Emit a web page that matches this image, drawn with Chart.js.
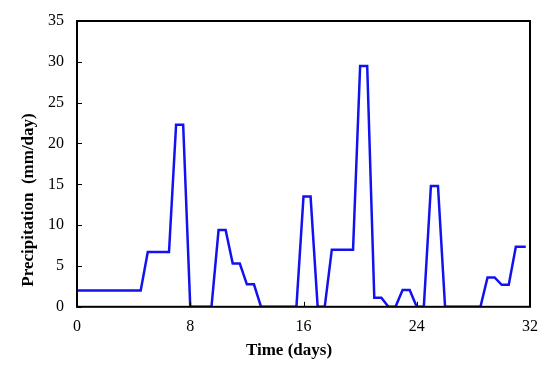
<!DOCTYPE html>
<html>
<head>
<meta charset="utf-8">
<script src="https://cdn.jsdelivr.net/npm/chart.js@4"></script>
<style>
  body { margin: 0; background: #fff; }
  #wrap { width: 550px; height: 370px; }
</style>
</head>
<body>
<div id="wrap"><canvas id="precipChart" width="550" height="370"></canvas></div>
<script>
// time in days and precipitation (mm/day)
const days = [0, 4.5, 5, 6.5, 7, 7.5, 8, 9.5, 10, 10.5, 11, 11.5, 12, 12.5, 13,
  15.5, 16, 16.5, 17, 17.5, 18, 19.5, 20, 20.5, 21, 21.5, 22, 22.5, 23, 23.5, 24,
  24.5, 25, 25.5, 26, 28.5, 29, 29.5, 30, 30.5, 31, 31.7];
const precip = [2, 2, 6.7, 6.7, 22.3, 22.3, 0, 0, 9.4, 9.4, 5.3, 5.3, 2.75, 2.75, 0,
  0, 13.5, 13.5, 0, 0, 7, 7, 29.5, 29.5, 1.1, 1.1, 0, 0, 2.05, 2.05, 0,
  0, 14.8, 14.8, 0, 0, 3.6, 3.6, 2.7, 2.7, 7.35, 7.35];
const xTicks = [0, 8, 16, 24, 32];
const yTicks = [0, 5, 10, 15, 20, 25, 30, 35];
const xTitle = 'Time (days)';
const yTitle = 'Precipitation  (mm/day)';

const points = days.map((d, i) => ({ x: d, y: precip[i] }));

// frame round the plot, small inward tick marks and the axis titles
const framePlugin = {
  id: 'frame',
  afterDraw(chart) {
    const { ctx, chartArea: a, scales } = chart;
    ctx.save();
    ctx.strokeStyle = '#000';
    ctx.lineWidth = 1;
    yTicks.forEach(v => {
      const y = Math.round(scales.y.getPixelForValue(v)) + 0.5;
      ctx.beginPath();
      ctx.moveTo(a.left, y);
      ctx.lineTo(a.left + 5, y);
      ctx.stroke();
    });
    xTicks.forEach(v => {
      const x = Math.round(scales.x.getPixelForValue(v)) + 0.5;
      ctx.beginPath();
      ctx.moveTo(x, a.bottom);
      ctx.lineTo(x, a.bottom - 5);
      ctx.stroke();
    });
    ctx.lineWidth = 2;
    ctx.strokeRect(a.left, a.top, a.right - a.left, a.bottom - a.top);

    ctx.fillStyle = '#000';
    ctx.font = 'bold 17px "Liberation Serif"';
    ctx.textAlign = 'center';
    ctx.textBaseline = 'middle';
    ctx.fillText(xTitle, a.left + (a.right - a.left) * 0.468, 351);
    ctx.translate(29, 200);
    ctx.rotate(-Math.PI / 2);
    ctx.fillText(yTitle, 0, 0);
    ctx.restore();
  }
};

new Chart(document.getElementById('precipChart').getContext('2d'), {
  type: 'scatter',
  data: {
    datasets: [{
      data: points,
      showLine: true,
      borderColor: '#1212ee',
      borderWidth: 2.5,
      pointRadius: 0,
      fill: false,
      tension: 0,
    }],
  },
  options: {
    responsive: false,
    animation: false,
    layout: { padding: { top: 7, right: 20, left: 35, bottom: 24 } },
    plugins: {
      legend: { display: false },
      tooltip: { enabled: false },
    },
    scales: {
      x: {
        type: 'linear',
        min: 0,
        max: 32,
        afterBuildTicks: s => { s.ticks = xTicks.map(v => ({ value: v })); },
        grid: { display: false, drawTicks: false },
        border: { display: false },
        ticks: { color: '#000', padding: 10, font: { family: 'Liberation Serif', size: 16 } },
      },
      y: {
        min: 0,
        max: 35,
        afterBuildTicks: s => { s.ticks = yTicks.map(v => ({ value: v })); },
        grid: { display: false, drawTicks: false },
        border: { display: false },
        ticks: { color: '#000', padding: 13, font: { family: 'Liberation Serif', size: 16, lineHeight: 1 } },
      },
    },
  },
  plugins: [framePlugin],
});
</script>
</body>
</html>
